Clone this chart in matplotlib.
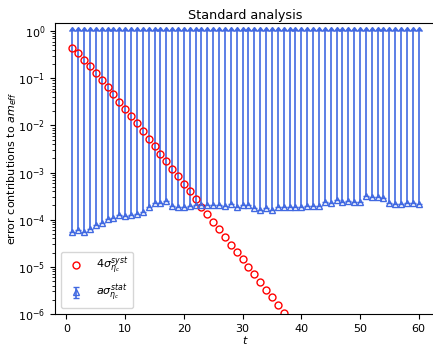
import matplotlib
matplotlib.use("Agg")
import matplotlib.pyplot as plt
import numpy as np

# time slices
t_syst = list(range(1, 38))
t_stat = list(range(1, 61))

# 4 * systematic error (visible points only)
syst = [0.44, 0.34, 0.25, 0.183, 0.132, 0.094, 0.065, 0.046, 0.032, 0.0226,
        0.0158, 0.011, 0.0076, 0.0052, 0.0036, 0.0025, 0.00174, 0.0012, 8.3e-4, 5.8e-4,
        4.0e-4, 2.7e-4, 1.9e-4, 1.29e-4, 8.9e-5, 6.2e-5, 4.3e-5, 2.95e-5, 2.1e-5, 1.45e-5,
        9.8e-6, 6.9e-6, 4.7e-6, 3.3e-6, 2.3e-6, 1.55e-6, 1.07e-6]

# statistical error
stat = [5.4e-5, 5.9e-5, 5.5e-5, 6.3e-5, 7.8e-5, 8.3e-5, 1.02e-4, 1.10e-4, 1.23e-4, 1.17e-4,
        1.23e-4, 1.29e-4, 1.45e-4, 1.82e-4, 2.29e-4, 2.24e-4, 2.45e-4, 1.91e-4, 1.82e-4, 1.82e-4,
        1.91e-4, 2.00e-4, 2.00e-4, 2.09e-4, 2.04e-4, 2.00e-4, 1.95e-4, 2.14e-4, 1.82e-4, 2.00e-4,
        2.00e-4, 1.78e-4, 1.62e-4, 1.74e-4, 1.62e-4, 1.86e-4, 1.86e-4, 1.86e-4, 1.82e-4, 1.82e-4,
        1.91e-4, 1.91e-4, 1.95e-4, 2.34e-4, 2.29e-4, 2.63e-4, 2.40e-4, 2.51e-4, 2.40e-4, 2.40e-4,
        3.16e-4, 3.02e-4, 3.02e-4, 2.95e-4, 2.29e-4, 2.14e-4, 2.14e-4, 2.29e-4, 2.29e-4, 2.14e-4]

stat_top = 1.0

fig = plt.figure(figsize=(4.33, 3.45), dpi=100)
ax = fig.add_axes([0.127, 0.09, 0.88, 0.843])

stat_arr = np.array(stat)
yerr = [np.zeros_like(stat_arr), stat_top - stat_arr]
ax.errorbar(t_stat, stat, yerr=yerr, lolims=True, fmt='^', color='royalblue',
            mfc='none', ms=5, lw=1.2, capsize=2,
            label=r'$a\sigma_{\eta_c}^{stat}$')
ax.plot(t_syst, syst, 'o', mfc='none', mec='red', ms=5, mew=1.0, ls='none',
        label=r'$4\sigma_{\eta_c}^{syst}$')

ax.set_yscale('log')
ax.set_ylim(1e-6, 1.48)
ax.set_xlim(-1.95, 62.95)
ax.set_xlabel('$t$', fontsize=8, labelpad=0)
ax.set_ylabel(r'error contributions to $am_{eff}$', fontsize=8, labelpad=-1)
ax.set_title('Standard analysis', fontsize=9.2, pad=3)
ax.tick_params(labelsize=8)

ax.legend(loc='lower left', fontsize=8)

fig.savefig('out.png', dpi=100)
